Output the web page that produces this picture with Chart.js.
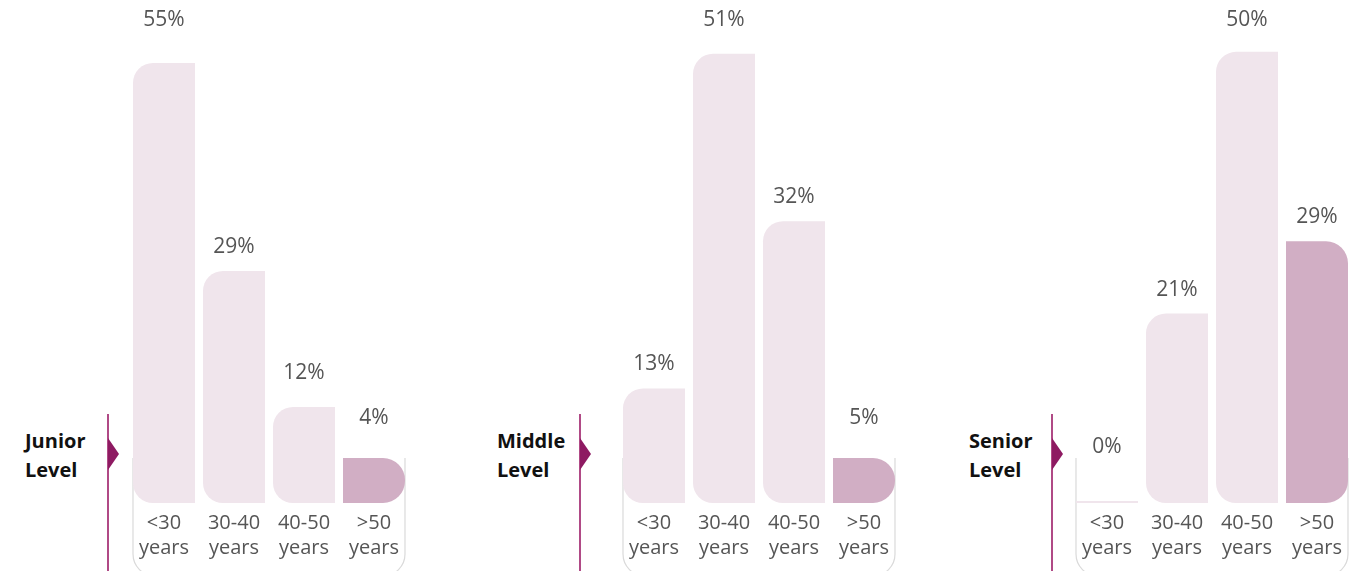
<!DOCTYPE html>
<html>
<head>
<meta charset="utf-8">
<script src="https://cdn.jsdelivr.net/npm/chart.js@4.4.1/dist/chart.umd.min.js"></script>
<style>
  body { margin: 0; background: #fff; width: 1366px; height: 571px; overflow: hidden; position: relative; font-family: 'Open Sans', sans-serif; }
  .level { position: absolute; top: 426px; font-weight: 700; font-size: 20px; line-height: 29px; color: #111; }
  .marker { position: absolute; top: 414px; width: 1.5px; height: 160px; background: #b04a86; }
  .marker::after { content: ''; position: absolute; left: 1px; top: 24px; border-top: 16px solid transparent; border-bottom: 16px solid transparent; border-left: 11px solid #8e1a62; }
  canvas { position: absolute; top: 0; }
</style>
</head>
<body>
<script>
// Data
const levelNames = [['Junior', 'Level'], ['Middle', 'Level'], ['Senior', 'Level']];
const ageGroups = [['<30', 'years'], ['30-40', 'years'], ['40-50', 'years'], ['>50', 'years']];
const juniorValues = [55, 29, 12, 4];
const middleValues = [13, 51, 32, 5];
const seniorValues = [0, 21, 50, 29];
const axisMax = [60, 54.5, 53.2];

// Layout of the three panels (label x, marker x, chart x)
const panels = [
    { values: juniorValues, labelX: 25, lineX: 107, chartX: 129 },
    { values: middleValues, labelX: 497, lineX: 579, chartX: 619 },
    { values: seniorValues, labelX: 969, lineX: 1051, chartX: 1072 }
];

const lightPink = '#f0e5ec';
const darkPink = '#d1aec4';
const textGrey = '#555';

// Draw the rounded bracket behind the bars
const bracketPlugin = {
    id: 'bracket',
    beforeDatasetsDraw(chart) {
        const meta = chart.getDatasetMeta(0);
        const first = meta.data[0];
        const last = meta.data[meta.data.length - 1];
        const left = first.x - first.width / 2;
        const right = last.x + last.width / 2;
        const bottomY = chart.chartArea.bottom;
        const top = bottomY - 45;
        const bottom = bottomY + 73;
        const r = 22;
        const c = chart.ctx;
        c.save();
        c.strokeStyle = '#dadada';
        c.lineWidth = 1.2;
        c.beginPath();
        c.moveTo(left, top);
        c.lineTo(left, bottom - r);
        c.arcTo(left, bottom, left + r, bottom, r);
        c.lineTo(right - r, bottom);
        c.arcTo(right, bottom, right, bottom - r, r);
        c.lineTo(right, top);
        c.stroke();
        c.restore();
    }
};

// Percentage labels above bars
const valueLabelPlugin = {
    id: 'valueLabels',
    afterDatasetsDraw(chart) {
        const values = chart.config.options.plugins.valueLabels.values;
        const c = chart.ctx;
        c.save();
        c.font = '21px "Open Sans", sans-serif';
        c.fillStyle = textGrey;
        c.textAlign = 'center';
        c.textBaseline = 'middle';
        values.forEach((v, i) => {
            const el = chart.getDatasetMeta(v > 0 ? 0 : 1).data[i];
            const h = el.base - el.y;
            let gap = 24;
            if (v === 0) gap = 54;
            else if (h < 50) gap = 40;
            else if (h < 100) gap = 34;
            let y = el.y - gap;
            if (y < 45) y = 20;
            c.fillText(v + '%', el.x, y);
        });
        c.restore();
    }
};

panels.forEach((p, n) => {
    const label = document.createElement('div');
    label.className = 'level';
    label.style.left = p.labelX + 'px';
    label.innerHTML = levelNames[n].join('<br>');
    document.body.appendChild(label);

    const marker = document.createElement('div');
    marker.className = 'marker';
    marker.style.left = p.lineX + 'px';
    document.body.appendChild(marker);

    const canvas = document.createElement('canvas');
    canvas.width = 280;
    canvas.height = 571;
    canvas.style.left = p.chartX + 'px';
    document.body.appendChild(canvas);

    new Chart(canvas.getContext('2d'), {
        type: 'bar',
        data: {
            labels: ageGroups,
            datasets: [{
                data: p.values.map(v => v > 0 ? v : null),
                backgroundColor: p.values.map((v, i) => i === p.values.length - 1 ? darkPink : lightPink),
                borderRadius: ctx => ctx.dataIndex === p.values.length - 1
                    ? { topLeft: 0, bottomLeft: 0, topRight: 22, bottomRight: 22 }
                    : { topLeft: 20, bottomLeft: 20, topRight: 0, bottomRight: 0 },
                borderSkipped: false,
                minBarLength: 45
            }, {
                data: p.values.map(v => v === 0 ? v : null),
                backgroundColor: lightPink,
                borderSkipped: false,
                minBarLength: 2
            }]
        },
        options: {
            responsive: false,
            animation: false,
            grouped: false,
            categoryPercentage: 1,
            barPercentage: 62 / 70,
            layout: { padding: { top: 23, bottom: 2, left: 0, right: 0 } },
            scales: {
                x: {
                    grid: { display: false, drawTicks: false },
                    border: { display: false },
                    ticks: {
                        color: textGrey,
                        font: { family: '"Open Sans", sans-serif', size: 20, lineHeight: '25px' },
                        padding: 8,
                        autoSkip: false,
                        maxRotation: 0
                    }
                },
                y: { display: false, min: 0, max: axisMax[n] }
            },
            plugins: {
                legend: { display: false },
                tooltip: { enabled: false },
                valueLabels: { values: p.values }
            }
        },
        plugins: [bracketPlugin, valueLabelPlugin]
    });
});
</script>
</body>
</html>
